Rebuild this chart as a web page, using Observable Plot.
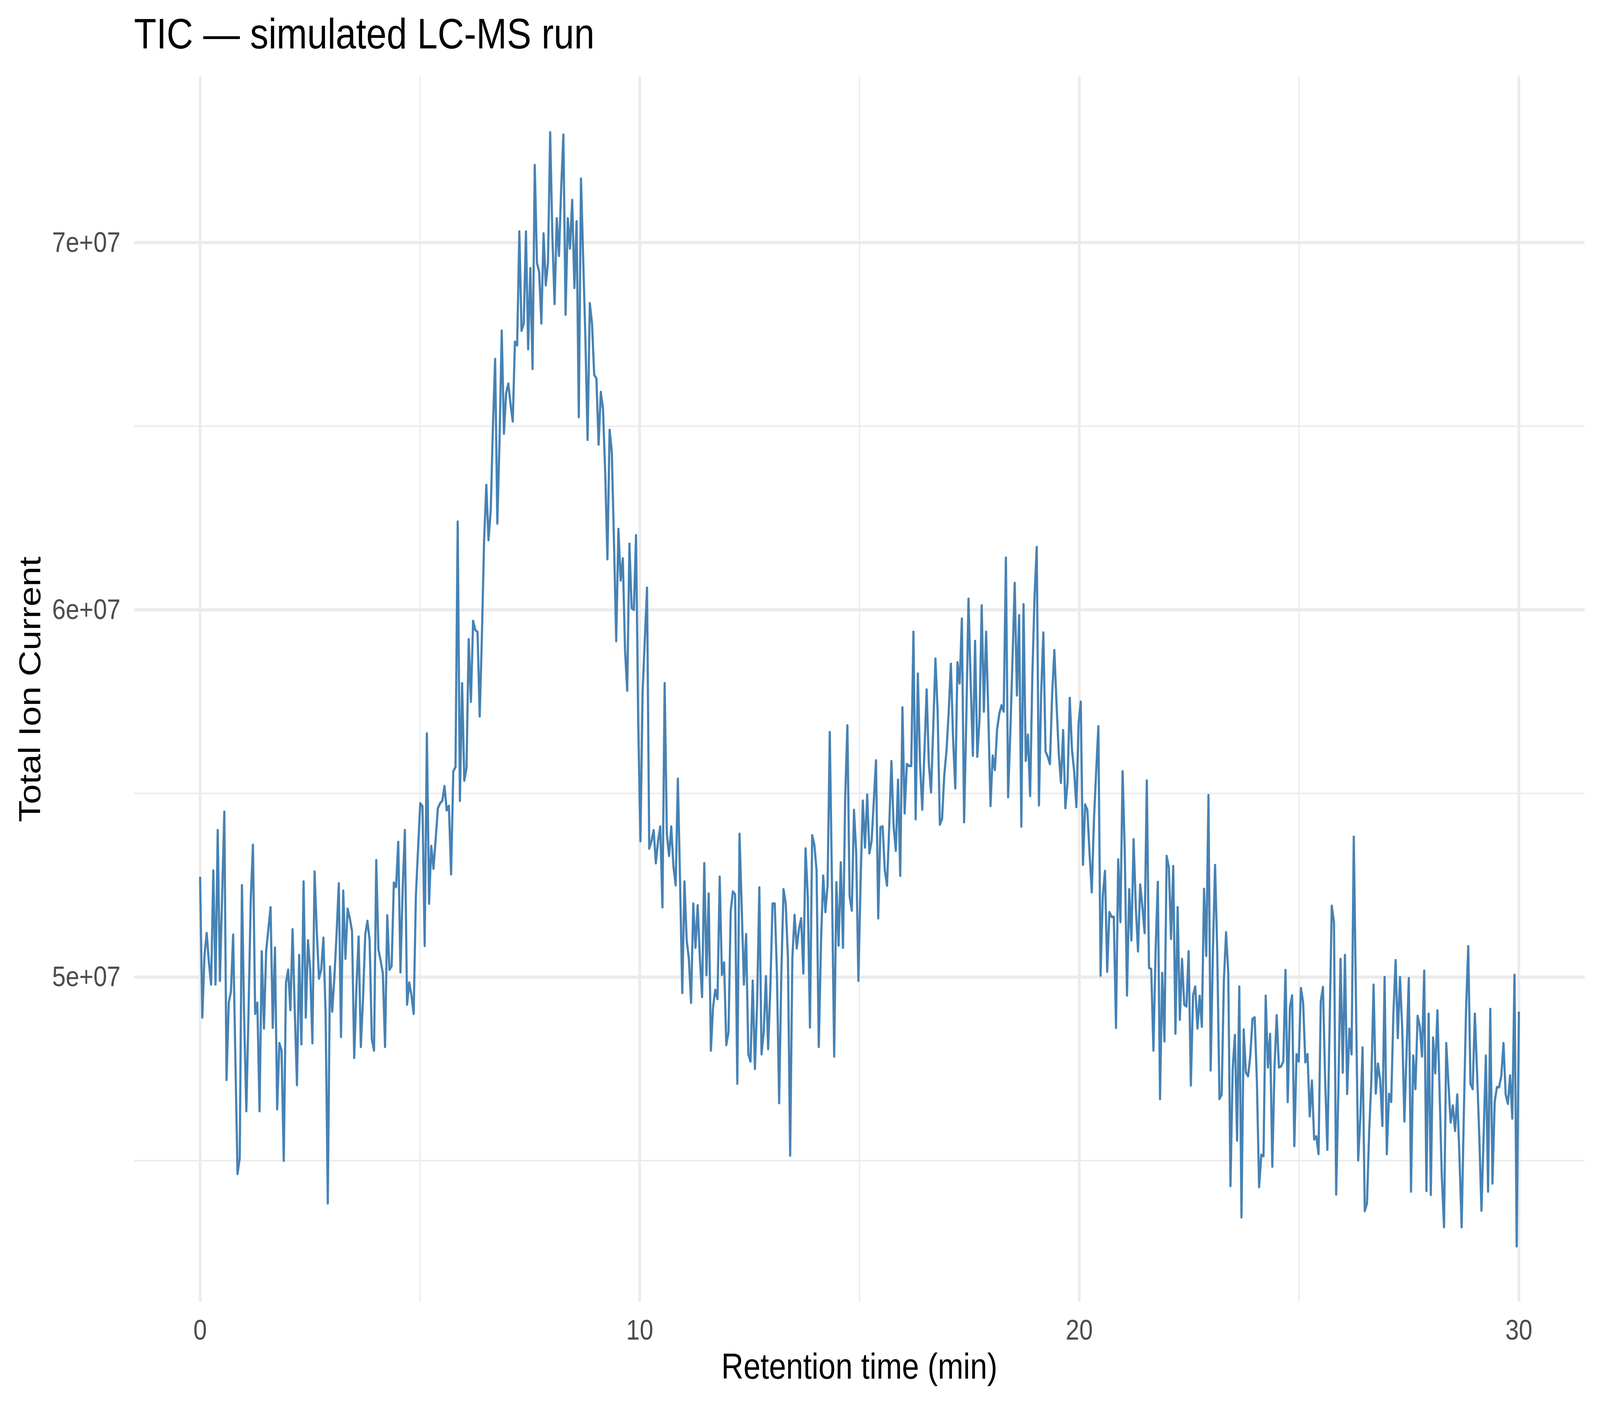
<!DOCTYPE html>
<html>
<head>
<meta charset="utf-8">
<script src="https://cdn.jsdelivr.net/npm/d3@7"></script>
<script src="https://cdn.jsdelivr.net/npm/@observablehq/plot@0.6"></script>
<style>
  html, body { margin: 0; padding: 0; background: #ffffff; overflow: hidden; }
  #frame { position: relative; overflow: hidden; background: #ffffff; width: 100vw; height: 100vh; }
  #wrap { position: absolute; left: 0; top: 0; width: 4800px; height: 3600px; overflow: hidden;
          font-family: "Liberation Sans", Arial, sans-serif; background: #ffffff;
          transform-origin: 0 0; }
  #wrap svg { position: absolute; left: 0; top: 0; }
  .t { position: absolute; white-space: nowrap; line-height: 1; color: #000000; }
</style>
</head>
<body>
<div id="frame">
<div id="wrap">
  <div class="t" id="title" style="left:402px; top:31px; font-size:110px;">TIC — simulated LC-MS run</div>
  <div class="t" id="xlab" style="left:1578px; top:3452px; width:2000px; text-align:center; font-size:92px;">Retention time (min)</div>
  <div class="t" id="ylab" style="left:-311px; top:1719px; width:800px; text-align:center; font-size:92px; transform:rotate(-90deg); transform-origin:50% 50%;">Total Ion Current</div>
</div>
</div>
<script>
// Sampling grid of the run (minutes)
const TIME_START = 0;
const TIME_END = 30;

// Total ion current, in units of 1e7 counts, one value per scan
const ticValues = [
  5.27, 4.89, 5.06, 5.12, 5.04, 4.98, 5.29, 4.98, 5.40, 4.99,
  5.22, 5.45, 4.72, 4.93, 4.96, 5.115, 4.785, 4.464, 4.507, 5.25,
  4.89, 4.635, 4.906, 5.21, 5.36, 4.90, 4.93, 4.635, 5.07, 4.86,
  5.07, 5.13, 5.19, 4.862, 5.08, 4.64, 4.82, 4.80, 4.50, 4.985,
  5.02, 4.91, 5.13, 4.906, 4.706, 5.06, 4.817, 5.26, 4.89, 5.10,
  5.02, 4.82, 5.287, 5.124, 4.996, 5.02, 5.107, 4.90, 4.384, 5.028,
  4.906, 5.00, 5.12, 5.255, 4.837, 5.235, 5.05, 5.186, 5.16, 5.125,
  4.78, 4.97, 5.11, 4.81, 4.94, 5.115, 5.153, 5.10, 4.83, 4.80,
  5.318, 5.075, 5.045, 5.01, 4.81, 5.168, 5.02, 5.03, 5.257, 5.245,
  5.368, 5.013, 5.24, 5.40, 4.925, 4.985, 4.95, 4.90, 5.22, 5.35,
  5.473, 5.465, 5.085, 5.663, 5.20, 5.357, 5.295, 5.376, 5.46, 5.473,
  5.48, 5.52, 5.454, 5.466, 5.28, 5.56, 5.572, 6.24, 5.48, 5.80,
  5.535, 5.57, 5.92, 5.75, 5.97, 5.945, 5.94, 5.71, 5.93, 6.19,
  6.34, 6.19, 6.27, 6.50, 6.683, 6.235, 6.46, 6.76, 6.48, 6.59,
  6.616, 6.56, 6.513, 6.73, 6.72, 7.03, 6.76, 6.78, 7.03, 6.71,
  6.93, 6.656, 7.211, 6.945, 6.92, 6.78, 7.025, 6.884, 6.945, 7.30,
  7.02, 6.833, 7.066, 6.964, 7.148, 7.294, 6.804, 7.066, 6.984, 7.116,
  6.877, 7.058, 6.525, 7.174, 6.955, 6.74, 6.463, 6.835, 6.78, 6.64,
  6.63, 6.45, 6.593, 6.547, 6.373, 6.138, 6.49, 6.43, 6.18, 5.915,
  6.22, 6.08, 6.14, 5.89, 5.78, 6.18, 6.005, 6.0, 6.203, 5.69,
  5.37, 5.78, 5.92, 6.06, 5.35, 5.37, 5.40, 5.31, 5.37, 5.41,
  5.19, 5.80, 5.39, 5.33, 5.41, 5.30, 5.25, 5.54, 5.26, 4.957,
  5.26, 5.10, 5.05, 4.93, 5.20, 5.08, 5.195, 5.05, 4.946, 5.31,
  5.006, 5.227, 4.80, 4.92, 4.965, 4.94, 5.273, 5.006, 5.04, 4.815,
  4.85, 5.18, 5.233, 5.225, 4.71, 5.39, 5.19, 4.98, 5.117, 4.79,
  4.77, 4.99, 4.75, 4.93, 5.244, 4.79, 4.85, 5.002, 4.804, 4.97,
  5.20, 5.20, 5.01, 4.657, 5.01, 5.239, 5.20, 5.05, 4.514, 5.05,
  5.169, 5.078, 5.13, 5.16, 5.01, 5.35, 5.22, 4.863, 5.386, 5.36,
  5.29, 4.81, 5.09, 5.276, 5.177, 5.25, 5.667, 5.25, 4.784, 5.258,
  5.086, 5.312, 5.08, 5.49, 5.685, 5.22, 5.181, 5.455, 5.34, 4.99,
  5.26, 5.48, 5.353, 5.497, 5.337, 5.37, 5.48, 5.59, 5.16, 5.408,
  5.41, 5.29, 5.249, 5.41, 5.588, 5.41, 5.344, 5.537, 5.276, 5.734,
  5.446, 5.58, 5.575, 5.575, 5.94, 5.43, 5.826, 5.58, 5.456, 5.615,
  5.783, 5.58, 5.503, 5.68, 5.867, 5.72, 5.415, 5.43, 5.55, 5.615,
  5.72, 5.853, 5.65, 5.514, 5.857, 5.80, 5.976, 5.422, 5.70, 6.03,
  5.80, 5.603, 5.915, 5.60, 5.70, 6.012, 5.723, 5.94, 5.717, 5.466,
  5.603, 5.564, 5.675, 5.717, 5.74, 5.723, 6.142, 5.49, 5.665, 5.866,
  6.073, 5.767, 5.985, 5.41, 6.015, 5.589, 5.66, 5.493, 5.82, 6.035,
  6.171, 5.468, 5.77, 5.938, 5.614, 5.60, 5.58, 5.77, 5.89, 5.743,
  5.61, 5.529, 5.672, 5.46, 5.53, 5.76, 5.62, 5.56, 5.463, 5.69,
  5.75, 5.306, 5.47, 5.455, 5.336, 5.231, 5.43, 5.56, 5.683, 5.004,
  5.22, 5.289, 5.015, 5.177, 5.164, 5.164, 4.862, 5.32, 5.15, 5.56,
  5.336, 4.95, 5.239, 5.10, 5.375, 5.19, 5.07, 5.252, 5.19, 5.12,
  5.535, 5.025, 5.022, 4.80, 5.075, 5.259, 4.668, 5.011, 4.825, 5.33,
  5.30, 5.104, 5.302, 4.846, 5.19, 4.884, 5.049, 4.925, 4.92, 5.07,
  4.705, 4.95, 4.974, 4.86, 4.949, 4.865, 5.24, 5.058, 5.495, 4.746,
  5.066, 5.305, 5.066, 4.668, 4.68, 4.99, 5.122, 5.01, 4.431, 4.75,
  4.842, 4.555, 4.974, 4.346, 4.857, 4.74, 4.73, 4.785, 4.886, 4.89,
  4.715, 4.428, 4.516, 4.512, 4.949, 4.754, 4.845, 4.484, 4.754, 4.896,
  4.754, 4.757, 4.77, 5.019, 4.66, 4.917, 4.95, 4.54, 4.79, 4.77,
  4.97, 4.93, 4.768, 4.79, 4.621, 4.718, 4.558, 4.566, 4.518, 4.933,
  4.973, 4.72, 4.53, 4.86, 5.194, 5.15, 4.408, 4.69, 5.049, 4.74,
  5.06, 4.682, 4.859, 4.79, 5.382, 4.933, 4.501, 4.62, 4.808, 4.363,
  4.384, 4.58, 4.72, 4.979, 4.683, 4.764, 4.72, 4.595, 5.00, 4.518,
  4.682, 4.66, 4.90, 5.046, 4.834, 5.00, 4.86, 4.607, 4.80, 4.997,
  4.416, 4.786, 4.695, 4.894, 4.866, 4.784, 5.017, 4.418, 4.90, 4.407,
  4.835, 4.738, 4.909, 4.684, 4.455, 4.319, 4.82, 4.71, 4.604, 4.65,
  4.581, 4.68, 4.51, 4.319, 4.63, 4.91, 5.084, 4.71, 4.695, 4.90,
  4.74, 4.57, 4.364, 4.57, 4.786, 4.416, 4.913, 4.438, 4.66, 4.70,
  4.70, 4.73, 4.82, 4.68, 4.655, 4.732, 4.615, 5.006, 4.267, 4.903
];
const TIC_UNIT = 1e7;

// Axis ticks and gridlines
const xMajorTicks = [0, 10, 20, 30];
const xMinorTicks = [5, 15, 25];
const yMajorTicks = [5e7, 6e7, 7e7];
const yMinorTicks = [4.5e7, 5.5e7, 6.5e7];

const n = ticValues.length;
const data = ticValues.map((v, i) => ({
  time: TIME_START + i * (TIME_END - TIME_START) / (n - 1),
  tic: v * TIC_UNIT
}));

// ggplot-style 5% expansion of both scales
const [tLo, tHi] = d3.extent(data, d => d.time);
const tPad = (tHi - tLo) * 0.05;
const [yLo, yHi] = d3.extent(data, d => d.tic);
const yPad = (yHi - yLo) * 0.05;

const fmtSci = d => {
  const [m, e] = d.toExponential().split("e");
  return m + "e" + e[0] + e.slice(1).padStart(2, "0");
};

const chart = Plot.plot({
  width: 4800,
  height: 3600,
  marginTop: 196,
  marginBottom: 267,
  marginLeft: 402,
  marginRight: 46,
  style: {
    fontFamily: '"Liberation Sans", Arial, sans-serif',
    fontSize: "73px",
    color: "#4D4D4D",
    background: "transparent",
    maxWidth: "none"
  },
  x: { domain: [tLo - tPad, tHi + tPad], axis: null },
  y: { domain: [yLo - yPad, yHi + yPad], axis: null },
  marks: [
    Plot.ruleX(xMinorTicks, { stroke: "#EBEBEB", strokeWidth: 4 }),
    Plot.ruleY(yMinorTicks, { stroke: "#EBEBEB", strokeWidth: 4 }),
    Plot.ruleX(xMajorTicks, { stroke: "#EBEBEB", strokeWidth: 8 }),
    Plot.ruleY(yMajorTicks, { stroke: "#EBEBEB", strokeWidth: 8 }),
    Plot.axisX({ ticks: xMajorTicks, tickSize: 0, tickPadding: 45, label: null, fill: "#4D4D4D" }),
    Plot.axisY({ ticks: yMajorTicks, tickSize: 0, tickPadding: 41, label: null, tickFormat: fmtSci, fill: "#4D4D4D" }),
    Plot.line(data, { x: "time", y: "tic", stroke: "#4682B4", strokeWidth: 6.5, strokeLinejoin: "round" })
  ]
});

const frame = document.getElementById("frame");
const wrap = document.getElementById("wrap");
wrap.insertBefore(chart, wrap.firstChild);

// The 4800x3600 design is mapped onto the whole viewport (the browser may clamp its width)
function fit() {
  const vw = window.innerWidth, vh = window.innerHeight;
  frame.style.width = vw + "px";
  frame.style.height = vh + "px";
  wrap.style.transform = "scale(" + (vw / 4800) + "," + (vh / 3600) + ")";
}
fit();
window.addEventListener("resize", fit);
</script>
</body>
</html>
